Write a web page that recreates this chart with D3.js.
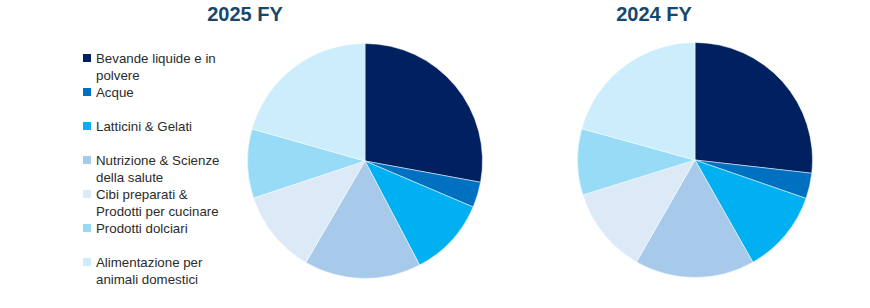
<!DOCTYPE html>
<html>
<head>
<meta charset="utf-8">
<script src="https://cdn.jsdelivr.net/npm/d3@7"></script>
<style>
  body { margin: 0; background: #fff; }
  svg { display: block; }
</style>
</head>
<body>
<svg id="chart" width="870" height="308"></svg>
<script>
// Categories (legend order = slice order, clockwise from 12 o'clock)
var categories = [
    ["Bevande liquide e in", "polvere"],
    ["Acque"],
    ["Latticini & Gelati"],
    ["Nutrizione & Scienze", "della salute"],
    ["Cibi preparati &", "Prodotti per cucinare"],
    ["Prodotti dolciari"],
    ["Alimentazione per", "animali domestici"]
];
var colors = ["#002060", "#0070c0", "#00b0f0", "#a7caeb", "#dce9f6", "#97dbf7", "#ccedfb"];

// Shares in percent
var values2025 = [27.9, 3.5, 10.9, 16.1, 11.5, 9.5, 20.6];
var values2024 = [26.8, 3.5, 11.5, 16.5, 11.9, 9.1, 20.7];

var svg = d3.select("#chart");

// Draw one pie with its title
function drawPie(values, title, cx, cy, r, tx) {
    var pie = d3.pie().sort(null).value(d => d);
    var arc = d3.arc().innerRadius(0).outerRadius(r);
    var g = svg.append("g").attr("transform", "translate(" + cx + "," + cy + ")");
    g.selectAll("path")
        .data(pie(values))
        .enter().append("path")
        .attr("d", arc)
        .attr("fill", (d, i) => colors[i])
        .attr("stroke", "#ffffff")
        .attr("stroke-width", 0.5);

    svg.append("text")
        .attr("x", tx)
        .attr("y", 21)
        .attr("text-anchor", "middle")
        .attr("font-family", "Liberation Sans, Arial, sans-serif")
        .attr("font-weight", "bold")
        .attr("font-size", 20)
        .attr("fill", "#17476b")
        .text(title);
}

drawPie(values2025, "2025 FY", 365, 161, 117.5, 245);
drawPie(values2024, "2024 FY", 695, 160, 117.5, 654);

// Legend
var legend = svg.append("g");
var item = legend.selectAll("g")
    .data(categories)
    .enter().append("g")
    .attr("transform", (d, i) => "translate(83," + (54 + i * 34) + ")");

item.append("rect")
    .attr("width", 8)
    .attr("height", 8)
    .attr("fill", (d, i) => colors[i]);

item.selectAll("text")
    .data(d => d)
    .enter().append("text")
    .attr("x", 13)
    .attr("y", (d, j) => 8.5 + j * 17.5)
    .attr("font-family", "Liberation Sans, Arial, sans-serif")
    .attr("font-size", 13.3)
    .attr("fill", "#2b2b2b")
    .text(d => d);
</script>
</body>
</html>
